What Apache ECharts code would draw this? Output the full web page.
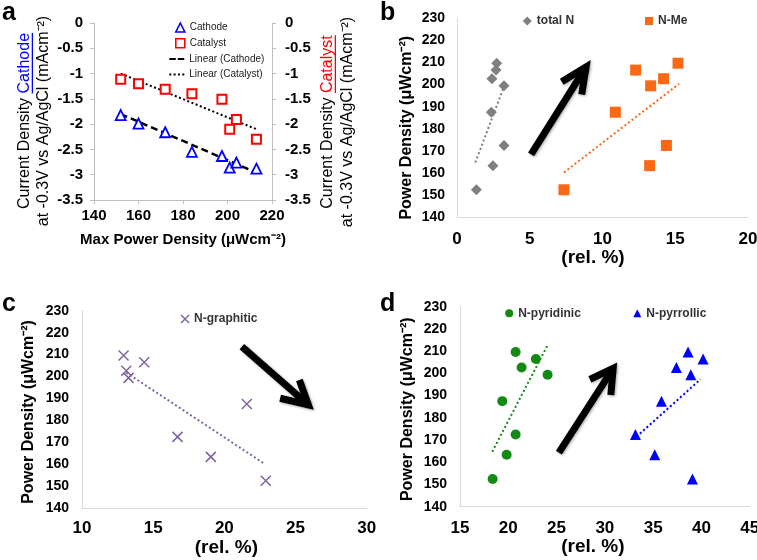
<!DOCTYPE html>
<html><head><meta charset="utf-8">
<script src="https://cdn.jsdelivr.net/npm/echarts@6/dist/echarts.min.js"></script>
<style>html,body{margin:0;padding:0;background:#fff}#c{width:757px;height:560px}</style>
</head><body><div id="c"></div>
<script>
const FONT = '"Liberation Sans", Arial, Helvetica, sans-serif';

// ---------- Panel a data ----------
const aPower = [152, 160, 172, 184, 197.5, 201, 204, 213];
const aCathode = [-1.82, -1.99, -2.16, -2.55, -2.63, -2.86, -2.76, -2.88];
const aCatalyst = [-1.11, -1.2, -1.31, -1.4, -1.51, -2.1, -1.91, -2.3];
const aCathodeFitX = [152, 212];
const aCathodeFitY = [-1.8, -2.94];
const aCatalystFitX = [152, 213];
const aCatalystFitY = [-1.0, -2.1];

// ---------- Panels b-d data ----------
const powerDensity = [152.5, 163.4, 172.5, 187.5, 199.4, 202.6, 206.5, 209.6];
const totalN = [1.33, 2.47, 3.23, 2.36, 3.23, 2.4, 2.68, 2.73];
const nMe = [7.35, 13.24, 14.39, 10.88, 13.31, 14.2, 12.28, 15.19];
const nGraphitic = [22.91, 19.05, 16.71, 21.58, 13.27, 13.11, 14.37, 12.92];
const nPyridinic = [18.38, 19.83, 20.76, 19.38, 24.07, 21.38, 22.86, 20.76];
const nPyrrollic = [39.07, 35.17, 33.17, 35.86, 38.9, 37.41, 40.17, 38.62];

// trend line end points
const totalNFitX = [1.26, 3.28], totalNFitY = [164.8, 200];
const nMeFitX = [7.35, 15.26], nMeFitY = [160.3, 200.3];
const nGraphiticFitX = [13.11, 22.87], nGraphiticFitY = [201.8, 160];
const nPyridinicFitX = [18.34, 24.14], nPyridinicFitY = [164.75, 213.2];
const nPyrrollicFitX = [33.28, 39.9], nPyrrollicFitY = [171.5, 197.3];

// annotation arrows: [tail, tip, barb1, barb2]
const arrowBX = [5.09, 8.87, 7.2, 8.57], arrowBY = [168.5, 207.95, 201.2, 195.5];
const arrowCX = [21.23, 25.9, 25.27, 23.92], arrowCY = [213.6, 187.06, 198.4, 190.1];
const arrowDX = [25.24, 30.86, 28.45, 30.62], arrowDY = [164.3, 202.25, 197.3, 190.25];

const zip = (xs, ys) => xs.map((x, i) => [x, ys[i]]);

const C_GRAY = '#808080', C_ORANGE = '#f96814', C_PURPLE = '#8064a2', C_GREEN = '#148a14', C_BLUE = '#0000ff';
const XPATH = 'path://M0,0L10,10M10,0L0,10';
const DASH_ICON = 'path://M0,0h6.5v2h-6.5zM8.5,0h6.5v2h-6.5z';
const DOT_ICON = 'path://M0,0h2v2h-2zM4.33,0h2v2h-2zM8.66,0h2v2h-2zM13,0h2v2h-2z';

function lbl(size, margin) {
  return { fontFamily: FONT, fontWeight: 'bold', fontSize: size, color: '#000', margin: margin };
}
function axisBase(extra) {
  return Object.assign({
    type: 'value',
    splitLine: { show: false },
    axisLine: { show: true, onZero: false, lineStyle: { color: '#d9d9d9', width: 1 } },
    axisTick: { show: false }
  }, extra);
}
const nameStyle = (size, pad) => ({ fontFamily: FONT, fontWeight: 'bold', fontSize: size, color: '#000', padding: pad || 0 });

function arrowSeries(xs, ys, xi, yi) {
  const st = { color: '#000', width: 7, join: 'miter', cap: 'butt', shadowBlur: 3, shadowColor: 'rgba(0,0,0,0.35)', shadowOffsetX: 1, shadowOffsetY: 1 };
  return [
    { type: 'line', xAxisIndex: xi, yAxisIndex: yi, data: [[xs[0], ys[0]], [xs[1], ys[1]]], symbol: 'none', lineStyle: st, silent: true, z: 5 },
    { type: 'line', xAxisIndex: xi, yAxisIndex: yi, data: [[xs[2], ys[2]], [xs[1], ys[1]], [xs[3], ys[3]]], symbol: 'none', lineStyle: st, silent: true, z: 5 }
  ];
}
function fitSeries(name, xs, ys, xi, yi, color, type, width) {
  return { name: name, type: 'line', xAxisIndex: xi, yAxisIndex: yi, data: zip(xs, ys), symbol: 'none',
    lineStyle: { color: color, width: width || 2, type: type }, itemStyle: { color: color }, silent: true, z: 2 };
}

// ---- rotated multi-colour titles for panel a ----
const mctx = document.createElement('canvas').getContext('2d');
function tw(t, font) { mctx.font = font; return mctx.measureText(t).width; }
function rotTitle(cx, cy, segs, size) {
  const font = size + 'px ' + FONT;
  const total = segs.reduce((s, g) => s + tw(g.t, font), 0);
  let x = -total / 2;
  const children = [];
  segs.forEach(g => {
    const w = tw(g.t, font);
    children.push({ type: 'text', x: x, y: 0, style: { text: g.t, font: font, fill: g.c || '#000', align: 'left', verticalAlign: 'middle' } });
    if (g.u) children.push({ type: 'rect', shape: { x: x, y: size * 0.42, width: w, height: 1.3 }, style: { fill: g.c } });
    x += w;
  });
  return { type: 'group', x: cx, y: cy, rotation: Math.PI / 2, children: children };
}
function letter(t, x, y) {
  return { type: 'text', x: x, y: y, style: { text: t, font: 'bold 25px ' + FONT, fill: '#000', align: 'left', verticalAlign: 'middle' } };
}

const grids = [
  { left: 94, top: 23, width: 178, height: 177 },
  { left: 457, top: 18, width: 291, height: 199.5 },
  { left: 82, top: 310.7, width: 284.7, height: 197.5 },
  { left: 460, top: 306.7, width: 289.7, height: 200 }
].map(g => Object.assign({ outerBoundsMode: 'none', containLabel: false }, g));

const pdName = 'Power Density (μWcm⁻²)';
const legText = { fontFamily: FONT, fontWeight: 'bold', fontSize: 12, color: '#333', lineHeight: 14 };
const legTextA = { fontFamily: FONT, fontSize: 10, color: '#1a1a1a', lineHeight: 12 };
const option = {
  animation: false,
  backgroundColor: '#fff',
  grid: grids,
  xAxis: [
    axisBase({ gridIndex: 0, min: 140, max: 220, interval: 20,
      axisLine: { show: true, onZero: false, lineStyle: { color: '#bfbfbf' } },
      axisTick: { show: true, length: 4, lineStyle: { color: '#bfbfbf' } },
      axisLabel: lbl(15, 8),
      name: 'Max Power Density (μWcm⁻²)', nameLocation: 'middle', nameGap: 32, nameTextStyle: nameStyle(15) }),
    axisBase({ gridIndex: 1, min: 0, max: 20, interval: 5, axisLabel: lbl(17, 13),
      name: '(rel. %)', nameLocation: 'middle', nameGap: 29, nameTextStyle: nameStyle(19, [0, 19, 0, 0]) }),
    axisBase({ gridIndex: 2, min: 10, max: 30, interval: 5, axisLabel: lbl(17, 12),
      name: '(rel. %)', nameLocation: 'middle', nameGap: 28.5, nameTextStyle: nameStyle(19, [0, 0, 0, 4]) }),
    axisBase({ gridIndex: 3, min: 15, max: 45, interval: 5, axisLabel: lbl(17, 13),
      name: '(rel. %)', nameLocation: 'middle', nameGap: 30, nameTextStyle: nameStyle(19, [0, 24, 0, 0]) })
  ],
  yAxis: [
    axisBase({ gridIndex: 0, min: -3.5, max: 0, interval: 0.5, position: 'left',
      axisLine: { show: true, onZero: false, lineStyle: { color: '#bfbfbf' } },
      axisTick: { show: true, length: 4, lineStyle: { color: '#bfbfbf' } },
      axisLabel: lbl(15, 11) }),
    axisBase({ gridIndex: 0, min: -3.5, max: 0, interval: 0.5, position: 'right',
      axisLine: { show: true, onZero: false, lineStyle: { color: '#bfbfbf' } },
      axisTick: { show: true, length: 4, lineStyle: { color: '#bfbfbf' } },
      axisLabel: lbl(15, 13) }),
    axisBase({ gridIndex: 1, min: 140, max: 230, interval: 10, axisLabel: lbl(14, 12),
      name: pdName, nameLocation: 'middle', nameGap: 42, nameTextStyle: nameStyle(16, [0, 20, 0, 0]) }),
    axisBase({ gridIndex: 2, min: 140, max: 230, interval: 10, axisLabel: lbl(14, 13),
      name: pdName, nameLocation: 'middle', nameGap: 45, nameTextStyle: nameStyle(16, [0, 5, 0, 0]) }),
    axisBase({ gridIndex: 3, min: 140, max: 230, interval: 10, axisLabel: lbl(14, 13),
      name: pdName, nameLocation: 'middle', nameGap: 44, nameTextStyle: nameStyle(16, [0, 5, 0, 0]) })
  ],
  legend: [
    { data: ['Cathode', 'Catalyst'], orient: 'vertical', left: 175, top: 21.5,
      itemWidth: 9, itemHeight: 9, itemGap: 3.7, padding: 0, selectedMode: false,
      itemStyle: { borderWidth: 1.6 }, textStyle: legTextA },
    { data: [{ name: 'Linear (Cathode)', icon: DASH_ICON }, { name: 'Linear (Catalyst)', icon: DOT_ICON }],
      orient: 'vertical', left: 169.3, top: 52.9,
      itemWidth: 15, itemHeight: 2, itemGap: 3.7, padding: 0, selectedMode: false,
      itemStyle: { color: '#000', borderWidth: 0 }, textStyle: legTextA },
    { data: ['total N'], left: 522.8, top: 14, itemWidth: 9, itemHeight: 9, padding: 0, selectedMode: false, textStyle: legText },
    { data: ['N-Me'], left: 645, top: 14, itemWidth: 8, itemHeight: 8, padding: 0, selectedMode: false, textStyle: legText },
    { data: ['N-graphitic'], left: 180.3, top: 312, itemWidth: 8, itemHeight: 8, padding: 0, selectedMode: false,
      itemStyle: { borderWidth: 1.5 }, textStyle: legText },
    { data: ['N-pyridinic'], left: 505.2, top: 306.3, itemWidth: 8, itemHeight: 8, padding: 0, selectedMode: false, textStyle: legText },
    { data: ['N-pyrrollic'], left: 633.3, top: 306.3, itemWidth: 8, itemHeight: 8, padding: 0, selectedMode: false, textStyle: legText }
  ],
  graphic: [
    letter('a', 2, 13), letter('b', 380, 13), letter('c', 2, 304.6), letter('d', 380, 304.6),
    rotTitle(25, 121, [{ t: 'Current Density ' }, { t: 'Cathode', c: '#0000ff', u: true }], 16),
    rotTitle(43.5, 121, [{ t: 'at -0.3V vs Ag/AgCl (mAcm⁻²)' }], 16),
    rotTitle(328, 122, [{ t: 'Current Density ' }, { t: 'Catalyst', c: '#ff0000', u: true }], 16),
    rotTitle(348, 122, [{ t: 'at -0.3V vs Ag/AgCl (mAcm⁻²)' }], 16)
  ],
  series: [
    // panel a
    { name: 'Cathode', type: 'scatter', xAxisIndex: 0, yAxisIndex: 0, data: zip(aPower, aCathode), symbol: 'triangle', symbolSize: 10, symbolKeepAspect: true,
      itemStyle: { color: '#fff', borderColor: '#0000ff', borderWidth: 1.8, opacity: 1 }, z: 3 },
    { name: 'Catalyst', type: 'scatter', xAxisIndex: 0, yAxisIndex: 1, data: zip(aPower, aCatalyst), symbol: 'rect', symbolSize: 9, symbolKeepAspect: true,
      itemStyle: { color: '#fff', borderColor: '#ff0000', borderWidth: 2, opacity: 1 }, z: 3 },
    fitSeries('Linear (Cathode)', aCathodeFitX, aCathodeFitY, 0, 0, '#000', [7, 4], 2.5),
    fitSeries('Linear (Catalyst)', aCatalystFitX, aCatalystFitY, 0, 1, '#000', [2, 2.5], 2),
    // panel b
    { name: 'total N', type: 'scatter', xAxisIndex: 1, yAxisIndex: 2, data: zip(totalN, powerDensity), symbol: 'diamond', symbolSize: 11, symbolKeepAspect: true,
      itemStyle: { color: C_GRAY, opacity: 1 }, z: 3 },
    { name: 'N-Me', type: 'scatter', xAxisIndex: 1, yAxisIndex: 2, data: zip(nMe, powerDensity), symbol: 'rect', symbolSize: 11, symbolKeepAspect: true,
      itemStyle: { color: C_ORANGE, opacity: 1 }, z: 3 },
    fitSeries('total N fit', totalNFitX, totalNFitY, 1, 2, C_GRAY, [2, 2.5], 2),
    fitSeries('N-Me fit', nMeFitX, nMeFitY, 1, 2, C_ORANGE, [2, 2.5], 2),
    ...arrowSeries(arrowBX, arrowBY, 1, 2),
    // panel c
    { name: 'N-graphitic', type: 'scatter', xAxisIndex: 2, yAxisIndex: 3, data: zip(nGraphitic, powerDensity), symbol: XPATH, symbolSize: 10, symbolKeepAspect: true,
      itemStyle: { color: C_PURPLE, borderColor: C_PURPLE, borderWidth: 1.5, opacity: 1 }, z: 3 },
    fitSeries('N-graphitic fit', nGraphiticFitX, nGraphiticFitY, 2, 3, C_PURPLE, [2, 2.5], 2),
    ...arrowSeries(arrowCX, arrowCY, 2, 3),
    // panel d
    { name: 'N-pyridinic', type: 'scatter', xAxisIndex: 3, yAxisIndex: 4, data: zip(nPyridinic, powerDensity), symbol: 'circle', symbolSize: 10,
      itemStyle: { color: C_GREEN, opacity: 1 }, z: 3 },
    { name: 'N-pyrrollic', type: 'scatter', xAxisIndex: 3, yAxisIndex: 4, data: zip(nPyrrollic, powerDensity), symbol: 'triangle', symbolSize: 11, symbolKeepAspect: true,
      itemStyle: { color: C_BLUE, opacity: 1 }, z: 3 },
    fitSeries('N-pyridinic fit', nPyridinicFitX, nPyridinicFitY, 3, 4, C_GREEN, [2, 2.5], 2),
    fitSeries('N-pyrrollic fit', nPyrrollicFitX, nPyrrollicFitY, 3, 4, C_BLUE, [2, 2.5], 2),
    ...arrowSeries(arrowDX, arrowDY, 3, 4)
  ]
};
const chart = echarts.init(document.getElementById('c'), null, { renderer: 'canvas', width: 757, height: 560 });
chart.setOption(option);
</script>
</body></html>
